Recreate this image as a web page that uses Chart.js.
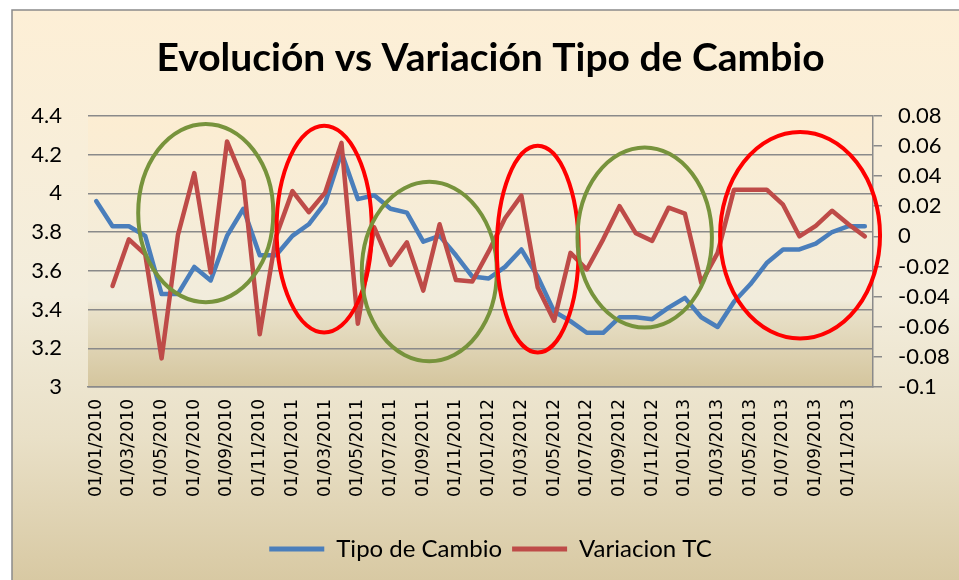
<!DOCTYPE html>
<html>
<head>
<meta charset="utf-8">
<script src="https://cdn.jsdelivr.net/npm/chart.js@4.4.1/dist/chart.umd.min.js"></script>
<style>
  html, body { margin: 0; padding: 0; background: #fff; }
  #chart { display: block; }
</style>
</head>
<body>
<canvas id="chart" width="959" height="580"></canvas>
<script>
// monthly dates, first day of each month
const fechas = [
  "01/01/2010","01/02/2010","01/03/2010","01/04/2010","01/05/2010","01/06/2010",
  "01/07/2010","01/08/2010","01/09/2010","01/10/2010","01/11/2010","01/12/2010",
  "01/01/2011","01/02/2011","01/03/2011","01/04/2011","01/05/2011","01/06/2011",
  "01/07/2011","01/08/2011","01/09/2011","01/10/2011","01/11/2011","01/12/2011",
  "01/01/2012","01/02/2012","01/03/2012","01/04/2012","01/05/2012","01/06/2012",
  "01/07/2012","01/08/2012","01/09/2012","01/10/2012","01/11/2012","01/12/2012",
  "01/01/2013","01/02/2013","01/03/2013","01/04/2013","01/05/2013","01/06/2013",
  "01/07/2013","01/08/2013","01/09/2013","01/10/2013","01/11/2013","01/12/2013"
];

const tipoCambio = [
  3.96, 3.83, 3.83, 3.78, 3.48, 3.48, 3.62, 3.55, 3.78, 3.92, 3.68, 3.68,
  3.78, 3.84, 3.95, 4.21, 3.97, 3.99, 3.92, 3.90, 3.75, 3.78, 3.68, 3.57,
  3.56, 3.62, 3.71, 3.57, 3.39, 3.34, 3.28, 3.28, 3.36, 3.36, 3.35, 3.41,
  3.46, 3.36, 3.31, 3.44, 3.53, 3.64, 3.71, 3.71, 3.74, 3.80, 3.83, 3.83
];

const variacionTC = [
  null, -0.033, -0.002, -0.012, -0.081, 0.001, 0.042, -0.024, 0.063, 0.037, -0.065, 0.000,
  0.030, 0.016, 0.029, 0.062, -0.058, 0.006, -0.019, -0.004, -0.036, 0.008, -0.029, -0.030,
  -0.010, 0.012, 0.027, -0.034, -0.056, -0.011, -0.022, -0.002, 0.020, 0.002, -0.003, 0.019,
  0.015, -0.031, -0.011, 0.031, 0.031, 0.031, 0.021, 0.000, 0.007, 0.017, 0.008, 0.000
];

// hand drawn circles: centre (category index, left axis value), radii in same units
const circulos = [
  { cx: 6.70, cy: 3.898, rx: 4.13, ry: 0.460, color: "#77933C" },
  { cx: 13.94, cy: 3.815, rx: 2.91, ry: 0.534, color: "#FF0000" },
  { cx: 20.37, cy: 3.596, rx: 4.13, ry: 0.463, color: "#77933C" },
  { cx: 27.00, cy: 3.712, rx: 2.50, ry: 0.534, color: "#FF0000" },
  { cx: 33.54, cy: 3.772, rx: 4.11, ry: 0.465, color: "#77933C" },
  { cx: 43.04, cy: 3.783, rx: 4.89, ry: 0.533, color: "#FF0000" }
];

const fondo = {
  id: "fondo",
  beforeDraw(chart) {
    const { ctx, chartArea: a } = chart;
    ctx.save();
    ctx.fillStyle = "#fff";
    ctx.fillRect(0, 0, chart.width, chart.height);
    const g = ctx.createLinearGradient(0, 10, 0, chart.height);
    g.addColorStop(0, "#FDEFD6");
    g.addColorStop(0.5, "#F3EDDC");
    g.addColorStop(0.75, "#E9E0C7");
    g.addColorStop(1, "#D8C9A3");
    ctx.fillStyle = g;
    ctx.fillRect(12, 10, chart.width, chart.height);
    ctx.strokeStyle = "#8a8a8a";
    ctx.lineWidth = 1.5;
    ctx.strokeRect(12, 10, chart.width + 10, chart.height + 10);
    const p = ctx.createLinearGradient(0, a.top, 0, a.bottom);
    p.addColorStop(0, "#FCEDD2");
    p.addColorStop(0.68, "#F1ECDC");
    p.addColorStop(0.72, "#E9E1C9");
    p.addColorStop(1, "#D4C59D");
    ctx.fillStyle = p;
    ctx.fillRect(a.left, a.top, a.right - a.left, a.bottom - a.top);
    ctx.restore();
  }
};

const elipses = {
  id: "elipses",
  afterDatasetsDraw(chart) {
    const { ctx } = chart;
    const x = chart.scales.x, y = chart.scales.y;
    ctx.save();
    ctx.lineWidth = 4;
    circulos.forEach(c => {
      const px = x.getPixelForValue(c.cx);
      const py = y.getPixelForValue(c.cy);
      const rx = Math.abs(x.getPixelForValue(c.cx + c.rx) - px);
      const ry = Math.abs(y.getPixelForValue(c.cy + c.ry) - py);
      ctx.strokeStyle = c.color;
      ctx.beginPath();
      ctx.ellipse(px, py, rx, ry, 0, 0, Math.PI * 2);
      ctx.stroke();
    });
    ctx.restore();
  }
};

const fuente = "Lato, 'Open Sans', sans-serif";

new Chart(document.getElementById("chart"), {
  type: "line",
  data: {
    labels: fechas,
    datasets: [
      {
        label: "Tipo de Cambio",
        data: tipoCambio,
        yAxisID: "y",
        borderColor: "#4A7EBB",
        backgroundColor: "#4A7EBB",
        borderWidth: 4.5,
        order: 1
      },
      {
        label: "Variacion TC",
        data: variacionTC,
        yAxisID: "y1",
        borderColor: "#BE4B48",
        backgroundColor: "#BE4B48",
        borderWidth: 4.5,
        order: 0
      }
    ]
  },
  options: {
    responsive: false,
    animation: false,
    elements: {
      point: { radius: 0 },
      line: { tension: 0, borderJoinStyle: "round", borderCapStyle: "round" }
    },
    layout: { padding: { left: 22, right: 0, top: 10, bottom: 9 } },
    plugins: {
      tooltip: { enabled: false },
      title: {
        display: true,
        text: "Evolución vs Variación Tipo de Cambio",
        color: "#000",
        font: { family: fuente, size: 39, weight: "bold" },
        padding: { top: 25, bottom: 34 }
      },
      legend: {
        position: "bottom",
        labels: {
          color: "#000",
          font: { family: fuente, size: 24 },
          boxWidth: 55,
          boxHeight: 5,
          padding: 10,
          sort: (a, b) => a.datasetIndex - b.datasetIndex,
          generateLabels: chart => Chart.defaults.plugins.legend.labels.generateLabels(chart)
            .map(l => ({ ...l, lineWidth: 0, fillStyle: l.strokeStyle }))
        }
      }
    },
    scales: {
      x: {
        offset: true,
        grid: { display: false, drawTicks: false },
        border: { display: true, color: "#8a8a8a", width: 1.5 },
        ticks: {
          autoSkip: false,
          minRotation: 90,
          maxRotation: 90,
          padding: 12,
          color: "#000",
          font: { family: "'DejaVu Sans'", size: 17 },
          callback: function (v, i) { return i % 2 === 0 ? this.getLabelForValue(v) : null; }
        },
        afterFit: s => { s.height = 140; }
      },
      y: {
        position: "left",
        min: 3,
        max: 4.4,
        ticks: {
          stepSize: 0.2,
          padding: 26,
          color: "#000",
          font: { family: fuente, size: 22 },
          callback: v => String(Math.round(v * 10) / 10)
        },
        grid: { color: "#8a8a8a", lineWidth: 1.5, drawTicks: false },
        border: { display: false },
        afterFit: s => { s.width = 66; }
      },
      y1: {
        position: "right",
        min: -0.1,
        max: 0.08,
        ticks: {
          stepSize: 0.02,
          padding: 16,
          color: "#000",
          font: { family: fuente, size: 22 },
          callback: v => String(Math.round(v * 100) / 100)
        },
        grid: { drawOnChartArea: false, color: "#8a8a8a", lineWidth: 1.5, tickLength: 9 },
        border: { display: true, color: "#8a8a8a", width: 1.5 },
        afterFit: s => { s.width = 86; }
      }
    }
  },
  plugins: [fondo, elipses]
});
</script>
</body>
</html>
